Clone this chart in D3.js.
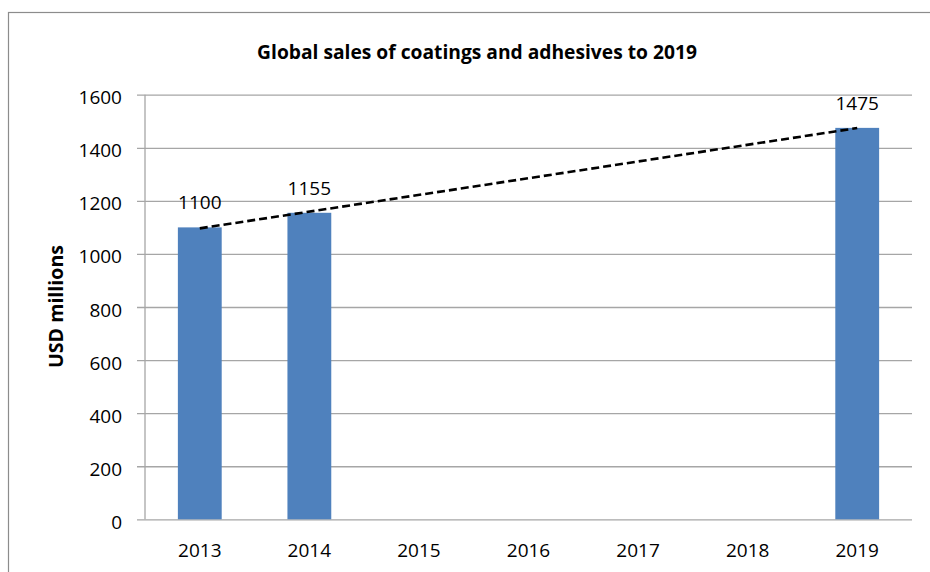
<!DOCTYPE html>
<html>
<head>
<meta charset="utf-8">
<script src="https://cdn.jsdelivr.net/npm/d3@7"></script>
<style>
  html, body { margin: 0; padding: 0; background: #fff; }
  svg { display: block; }
  text { font-family: "Open Sans", "Liberation Sans", sans-serif; fill: #000; }
</style>
</head>
<body>
<svg id="chart" width="930" height="572"></svg>
<script>
// ---- data ----
const categories = ["2013", "2014", "2015", "2016", "2017", "2018", "2019"];
const salesValues = [1100, 1155, null, null, null, null, 1475];
const yTicks = [0, 200, 400, 600, 800, 1000, 1200, 1400, 1600];
const titleText = "Global sales of coatings and adhesives to 2019";
const yAxisTitle = "USD millions";

// ---- layout ----
const svg = d3.select("#chart");
const plot = { left: 145, right: 912, top: 94.7, bottom: 519.3 };
const gridColor = "#a6a6a6";
const barColor = "#4f81bd";

function fitText(sel, targetWidth) {
  const node = sel.node();
  const fs = parseFloat(sel.attr("font-size"));
  const w = node.getComputedTextLength();
  sel.attr("font-size", (fs * targetWidth / w).toFixed(2));
}

// outer border
svg.append("rect")
  .attr("x", 8.5).attr("y", 12.5)
  .attr("width", 940).attr("height", 600)
  .attr("fill", "none").attr("stroke", "#8c8c8c").attr("stroke-width", 1.2);

const x = d3.scaleBand()
  .domain(categories)
  .range([plot.left, plot.right])
  .paddingInner(0.6)
  .paddingOuter(0.3);

const y = d3.scaleLinear()
  .domain([0, 1600])
  .range([plot.bottom, plot.top]);

// gridlines + y axis
const yAxis = d3.axisLeft(y)
  .tickValues(yTicks)
  .tickSize(-(plot.right - plot.left))
  .tickPadding(0)
  .tickFormat(d3.format("d"));

const gy = svg.append("g")
  .attr("transform", `translate(${plot.left},0)`)
  .call(yAxis);
gy.select(".domain").remove();
gy.selectAll(".tick line")
  .attr("x1", -8)
  .attr("stroke", gridColor).attr("stroke-width", 1.3);
gy.selectAll(".tick text")
  .attr("x", -23).attr("dy", "0.37em")
  .attr("font-size", 19)
  .attr("font-family", "Open Sans")
  .attr("fill", "#000")
  .attr("transform", "translate(0,2)");

// y axis vertical line
svg.append("line")
  .attr("x1", plot.left).attr("x2", plot.left)
  .attr("y1", plot.top).attr("y2", plot.bottom)
  .attr("stroke", gridColor).attr("stroke-width", 1.3);

// x axis labels
const xAxis = d3.axisBottom(x).tickSize(0).tickPadding(0);
const gx = svg.append("g")
  .attr("transform", `translate(0,${plot.bottom})`)
  .call(xAxis);
gx.select(".domain").remove();
gx.selectAll(".tick text")
  .attr("y", 38).attr("dy", 0)
  .attr("font-size", 19)
  .attr("font-family", "Open Sans")
  .attr("fill", "#000");

// bars
const data = categories.map((c, i) => ({ cat: c, value: salesValues[i], idx: i }));
const present = data.filter(d => d.value != null);

svg.append("g").selectAll("rect")
  .data(present)
  .join("rect")
  .attr("x", d => x(d.cat))
  .attr("width", x.bandwidth())
  .attr("y", d => y(d.value))
  .attr("height", d => y(0) - y(d.value))
  .attr("fill", barColor);

// data labels
svg.append("g").selectAll("text")
  .data(present)
  .join("text")
  .attr("x", d => x(d.cat) + x.bandwidth() / 2)
  .attr("y", d => y(d.value) - 18)
  .attr("text-anchor", "middle")
  .attr("font-size", 19)
  .text(d => d.value);

// linear trendline (least squares on category index)
const n = present.length;
const mx = d3.mean(present, d => d.idx);
const my = d3.mean(present, d => d.value);
const sxy = d3.sum(present, d => (d.idx - mx) * (d.value - my));
const sxx = d3.sum(present, d => (d.idx - mx) ** 2);
const slope = sxy / sxx;
const intercept = my - slope * mx;
const first = present[0], last = present[n - 1];
const trend = [first, last].map(d => ({ cat: d.cat, v: intercept + slope * d.idx }));

svg.append("path")
  .datum(trend)
  .attr("d", d3.line()
    .x(d => x(d.cat) + x.bandwidth() / 2)
    .y(d => y(d.v)))
  .attr("fill", "none")
  .attr("stroke", "#000")
  .attr("stroke-width", 2.6)
  .attr("stroke-dasharray", "8,4");

// title
const t = svg.append("text")
  .attr("x", 477).attr("y", 59)
  .attr("text-anchor", "middle")
  .attr("font-weight", "bold")
  .attr("font-size", 18)
  .text(titleText);
fitText(t, 440);

// y axis title
const yt = svg.append("text")
  .attr("transform", "translate(63,306.5) rotate(-90)")
  .attr("text-anchor", "middle")
  .attr("font-weight", "bold")
  .attr("font-size", 18)
  .text(yAxisTitle);
fitText(yt, 123);
</script>
</body>
</html>
